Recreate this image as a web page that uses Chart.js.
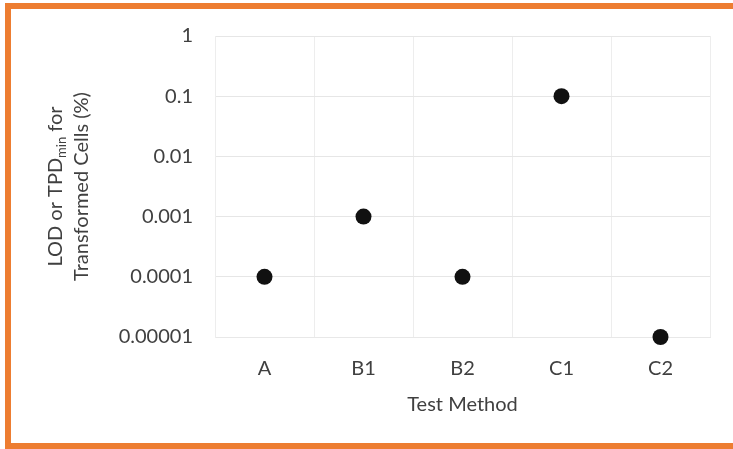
<!DOCTYPE html>
<html>
<head>
<meta charset="utf-8">
<script src="https://cdn.jsdelivr.net/npm/chart.js@4.4.0/dist/chart.umd.min.js"></script>
<style>
  html, body { margin: 0; padding: 0; background: #fff; }
  #frame {
    position: absolute; left: 5px; top: 3px;
    width: 728px; height: 446px;
    box-sizing: border-box;
    border: 6px solid #ED7D31; border-right: none;
    background: #fff;
  }
  #wrap { position: relative; width: 722px; height: 434px; }
</style>
</head>
<body>
<div id="frame"><div id="wrap"><canvas id="lodChart"></canvas></div></div>
<script>
// data
const methods = ['A', 'B1', 'B2', 'C1', 'C2'];
const lodValues = [0.0001, 0.001, 0.0001, 0.1, 0.00001];
const yTicks = [1, 0.1, 0.01, 0.001, 0.0001, 0.00001];

const FONT = 'Lato, "Open Sans", sans-serif';
const TEXT = '#404040';

// y title with a subscript, drawn rotated
const yTitle = {
  id: 'yTitle',
  afterDraw(chart) {
    const ctx = chart.ctx;
    const cy = (chart.chartArea.top + chart.chartArea.bottom) / 2;
    ctx.save();
    ctx.fillStyle = TEXT;
    ctx.textBaseline = 'alphabetic';
    ctx.textAlign = 'left';
    const big = '20px ' + FONT, small = '13px ' + FONT;

    // line 1: LOD or TPDmin for
    ctx.font = big;
    const a = 'LOD or TPD', c = ' for';
    const wa = ctx.measureText(a).width, wc = ctx.measureText(c).width;
    ctx.font = small;
    const wb = ctx.measureText('min').width;
    let x = -(wa + wb + wc) / 2;
    ctx.save();
    ctx.translate(51, cy);
    ctx.rotate(-Math.PI / 2);
    ctx.font = big; ctx.fillText(a, x, 0); x += wa;
    ctx.font = small; ctx.fillText('min', x, 4); x += wb;
    ctx.font = big; ctx.fillText(c, x, 0);
    ctx.restore();

    // line 2
    ctx.save();
    ctx.translate(77, cy);
    ctx.rotate(-Math.PI / 2);
    ctx.font = big;
    ctx.textAlign = 'center';
    ctx.fillText('Transformed Cells (%)', 0, 0);
    ctx.restore();
    ctx.restore();
  }
};

new Chart(document.getElementById('lodChart'), {
  type: 'line',
  data: {
    labels: methods,
    datasets: [{
      data: lodValues,
      showLine: false,
      clip: false,
      pointRadius: 8,
      pointHoverRadius: 8,
      pointBackgroundColor: '#111',
      pointBorderColor: '#111',
      pointBorderWidth: 0
    }]
  },
  options: {
    responsive: true,
    maintainAspectRatio: false,
    animation: false,
    layout: { padding: { top: 27, right: 23, bottom: 0, left: 0 } },
    plugins: { legend: { display: false }, tooltip: { enabled: false } },
    scales: {
      x: {
        offset: true,
        grid: { offset: true, color: '#ededed', drawTicks: false },
        border: { color: '#e8e8e8' },
        ticks: { color: TEXT, font: { family: FONT, size: 20 }, padding: 20 },
        title: {
          display: true, text: 'Test Method', color: TEXT,
          font: { family: FONT, size: 20 }, padding: { top: 0, bottom: 26 }
        },
        afterFit(scale) { scale.height = 106; }
      },
      y: {
        type: 'logarithmic',
        min: 0.00001,
        max: 1,
        grid: { color: '#e6e6e6', drawTicks: false },
        border: { color: '#ededed' },
        ticks: {
          color: TEXT, font: { family: FONT, size: 20 }, padding: 22,
          callback: (v) => String(v)
        },
        afterBuildTicks(scale) { scale.ticks = yTicks.map(v => ({ value: v })); },
        afterFit(scale) {
          scale.width = 204;
          scale.paddingTop = 0;
          scale.paddingBottom = 0;
        }
      }
    }
  },
  plugins: [yTitle]
});
</script>
</body>
</html>
